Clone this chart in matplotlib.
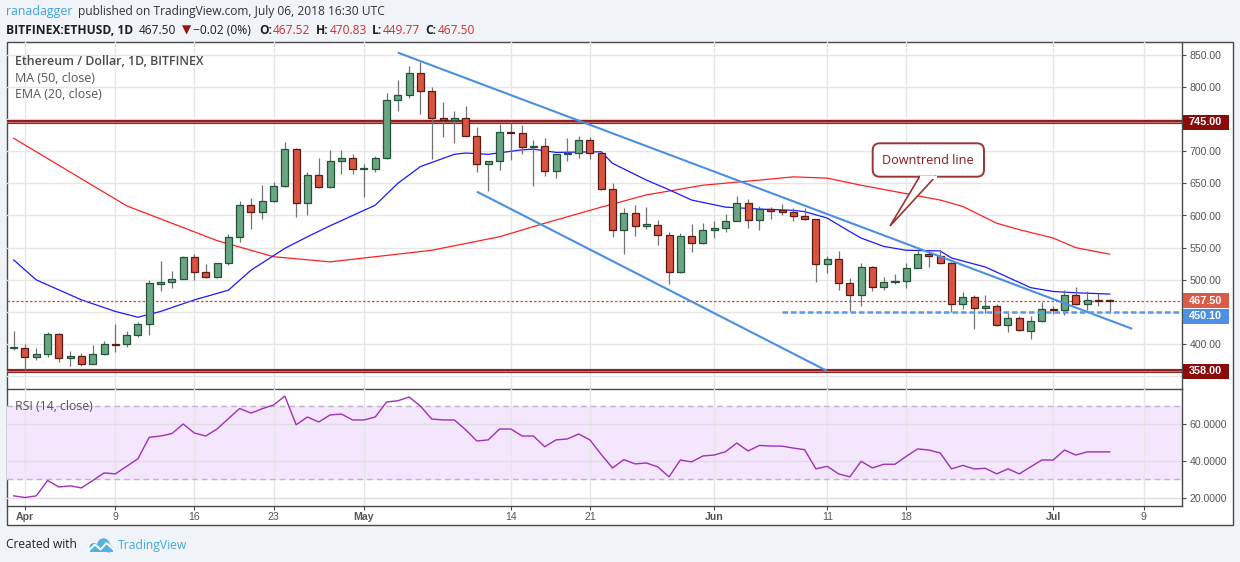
import matplotlib
matplotlib.use("Agg")
import matplotlib.pyplot as plt
from matplotlib.patches import Rectangle, FancyBboxPatch, Polygon, Circle
import numpy as np
import pandas as pd

W, H = 1240, 562

# ---------------- data ----------------
start_date = "2018-03-31"
end_date = "2018-07-06"
opens = [395, 394, 380, 385, 416, 379, 382, 370, 385, 401, 400, 415, 431, 494, 496, 502,
         535, 512, 504, 526, 567, 617, 605, 622, 646, 704, 619, 663, 644, 684, 690, 672,
         672, 689, 780, 787, 821, 794, 752, 749, 752, 724, 680, 684, 729, 728, 706, 708,
         669, 695, 697, 717, 697, 641, 578, 604, 584, 586, 569, 513, 568, 558, 577, 580,
         591, 620, 593, 610, 608, 606, 600, 594, 524, 532, 495, 476, 520, 489, 497, 498,
         518, 540, 537, 527, 462, 474, 456, 459, 430, 441, 421, 436, 455, 453, 477, 462,
         469, 467.52]
highs = [420, 400, 394, 419, 418, 389, 386, 399, 405, 432, 420, 435, 500, 529, 514, 537,
         540, 524, 527, 571, 622, 627, 647, 652, 714, 705, 667, 689, 702, 702, 696, 680,
         693, 791, 810, 832, 839, 799, 776, 762, 770, 737, 685, 742, 743, 740, 717, 721,
         696, 721, 723, 722, 700, 651, 611, 616, 613, 593, 575, 573, 587, 588, 591, 602,
         630, 626, 615, 613, 618, 611, 612, 595, 537, 545, 503, 527, 522, 504, 509, 527,
         549, 545, 546, 528, 481, 476, 476, 463, 448, 444, 444, 466, 459, 484, 489, 483,
         479, 470.83]
lows = [391, 360, 375, 380, 372, 366, 366, 369, 384, 388, 396, 412, 415, 482, 487, 501,
        500, 503, 503, 523, 559, 579, 594, 621, 645, 598, 600, 643, 643, 664, 664, 629,
        667, 688, 763, 783, 757, 687, 722, 712, 723, 668, 638, 670, 686, 695, 646, 661,
        659, 684, 690, 688, 640, 566, 540, 568, 579, 554, 494, 511, 544, 555, 565, 575,
        591, 581, 577, 594, 601, 592, 593, 497, 511, 484, 451, 460, 483, 484, 494, 488,
        518, 520, 525, 450, 455, 423, 448, 429, 419, 420, 408, 435, 447, 445, 461, 454,
        460, 449.77]
closes = [396, 380, 385, 416, 379, 382, 370, 385, 401, 399, 415, 431, 495, 496, 502, 535,
          512, 504, 526, 567, 617, 605, 622, 646, 704, 619, 663, 644, 685, 690, 672, 673,
          689, 780, 787, 821, 794, 752, 749, 752, 724, 680, 684, 729, 728, 706, 708, 669,
          695, 697, 717, 697, 641, 578, 604, 584, 587, 569, 513, 568, 558, 577, 580, 591,
          620, 593, 610, 607, 606, 600, 594, 524, 532, 495, 476, 520, 489, 497, 498, 518,
          540, 537, 527, 462, 474, 456, 459, 430, 441, 422, 436, 455, 453, 477, 462, 469,
          467.52, 467.50]

ma50_dates = ["2018-03-31", "2018-04-04", "2018-04-08", "2018-04-10", "2018-04-18", "2018-04-23",
              "2018-04-28", "2018-05-07", "2018-05-13", "2018-05-17", "2018-05-22", "2018-05-26",
              "2018-05-31", "2018-06-05", "2018-06-08", "2018-06-11", "2018-06-14", "2018-06-21",
              "2018-06-23", "2018-06-26", "2018-06-28", "2018-07-01", "2018-07-03", "2018-07-06"]
ma50_vals = [720, 678, 636, 615, 561, 536, 528, 546, 567, 588, 613, 632,
             647, 655, 660, 658, 647, 624, 614, 588, 578, 565, 550, 540]

ema20_dates = ["2018-03-31", "2018-04-02", "2018-04-06", "2018-04-09", "2018-04-11", "2018-04-13",
               "2018-04-16", "2018-04-19", "2018-04-21", "2018-04-24", "2018-04-26", "2018-04-28",
               "2018-05-02", "2018-05-04", "2018-05-06", "2018-05-09", "2018-05-10", "2018-05-12",
               "2018-05-15", "2018-05-16", "2018-05-18", "2018-05-22", "2018-05-23", "2018-05-26",
               "2018-05-28", "2018-05-30", "2018-06-02", "2018-06-05", "2018-06-08", "2018-06-09",
               "2018-06-11", "2018-06-13", "2018-06-14", "2018-06-16", "2018-06-18", "2018-06-21",
               "2018-06-22", "2018-06-25", "2018-06-29", "2018-07-01", "2018-07-03", "2018-07-06"]
ema20_vals = [531, 500, 469, 451, 442, 451, 469, 484, 515, 549, 567, 584,
              616, 650, 676, 695, 697, 695, 702, 703, 698, 699, 681, 655,
              640, 624, 613, 610, 608, 606, 596, 575, 565, 552, 546, 545,
              534, 520, 488, 482, 480, 478]

rsi_vals = [21.1, 20.2, 21.1, 29.4, 25.9, 26.5, 25.4, 29.4, 33.5, 33.0, 37.1, 41.2, 52.8,
            53.5, 54.8, 60.0, 55.1, 53.5, 57.3, 62.9, 68.4, 65.9, 68.3, 70.3, 75.1, 59.6,
            63.8, 61.1, 64.9, 65.4, 62.2, 62.2, 63.8, 71.9, 72.6, 74.6, 69.7, 62.7, 62.2,
            62.2, 56.9, 50.8, 51.4, 57.3, 57.3, 53.5, 53.5, 47.7, 51.4, 51.9, 54.6, 51.4,
            43.5, 36.2, 40.7, 38.4, 38.9, 36.8, 31.4, 40.5, 39.5, 42.7, 43.2, 45.0, 49.7,
            45.4, 48.4, 48.1, 48.0, 47.0, 46.1, 35.7, 37.1, 33.0, 31.4, 39.8, 36.2, 38.2,
            38.2, 42.5, 46.5, 45.9, 44.3, 35.7, 37.6, 35.7, 36.0, 33.0, 35.7, 33.0, 36.8,
            40.5, 40.5, 45.9, 43.2, 44.9, 44.9, 44.9]

level_top = 745.00
level_bottom = 358.00
support_level = 450.10
last_price = 467.50
support_start = "2018-06-07"

downtrend_dates = ["2018-05-04", "2018-07-08"]
downtrend_prices = [853, 424]
channel_dates = ["2018-05-11", "2018-06-11"]
channel_prices = [637, 358.5]

tick_dates = ["2018-04-01", "2018-04-09", "2018-04-16", "2018-04-23", "2018-05-01", "2018-05-14",
              "2018-05-21", "2018-06-01", "2018-06-11", "2018-06-18", "2018-07-01", "2018-07-09"]
tick_labels = ["Apr", "9", "16", "23", "May", "14", "21", "Jun", "11", "18", "Jul", "9"]
price_ticks = [400, 500, 550, 600, 650, 700, 800, 850]
price_grid = [350, 400, 450, 500, 550, 600, 650, 700, 750, 800, 850]
rsi_ticks = [20, 40, 60]

# ---------------- helpers ----------------
ref = pd.Timestamp("2018-04-01")
def dnum(d):
    return (pd.to_datetime(pd.Series(d)) - ref).dt.days.to_numpy().astype(float)

dates = pd.date_range(start_date, end_date, freq="D")
xs = dnum(dates)

fig = plt.figure(figsize=(W / 100, H / 100), dpi=100)
fig.patch.set_facecolor("#f0f3f7")
renderer = fig.canvas.get_renderer()

def fx(px):
    return px / W

def fy(py):
    return 1 - py / H

FRAME = "#4a4a4a"
GRID = "#e6e6e6"
TXT = "#555555"

bg = fig.add_axes([0, 0, 1, 1], zorder=-5)
bg.set_xlim(0, W); bg.set_ylim(H, 0); bg.axis("off")
bg.add_patch(Rectangle((7, 41.7), 1226, 483.3, facecolor="white", edgecolor=FRAME, lw=1.0))

L, R = 7, 1182
ax = fig.add_axes([fx(L), fy(389.3), fx(R) - fx(L), (389.3 - 41.7) / H])
rax = fig.add_axes([fx(L), fy(506), fx(R) - fx(L), (506 - 389.3) / H])
for a in (ax, rax):
    a.set_facecolor("none")
    a.set_xlim(-1.59, 102.4)
    for s in ("top", "left"):
        a.spines[s].set_visible(False)
    for s in ("right", "bottom"):
        a.spines[s].set_color(FRAME)
        a.spines[s].set_linewidth(1.0)
ax.set_ylim(330.1, 869.9)
rax.set_ylim(15.6, 78.8)

tx = dnum(tick_dates)
# grids
for t in tx:
    ax.axvline(t, color=GRID, lw=1, zorder=0)
    rax.axvline(t, color=GRID, lw=1, zorder=0.5)
for g in price_grid:
    ax.axhline(g, color=GRID, lw=1, zorder=0)

# main price ticks
ax.set_xticks(tx)
ax.tick_params(axis="x", length=0, labelbottom=False)
ax.yaxis.tick_right()
ax.set_yticks(price_ticks)
ax.set_yticklabels([f"{v:.2f}" for v in price_ticks])
ax.tick_params(axis="y", length=3, color=FRAME, labelcolor=TXT, labelsize=7.6, pad=2.5)
for lab in ax.get_yticklabels():
    lab.set_family("Liberation Sans")

# horizontal levels
for lv in (level_top, level_bottom):
    ax.axhline(lv, color="#8b1d1d", lw=3.0, zorder=1)
    ax.axhline(lv, color="#c86b6b", lw=0.9, zorder=1.1)

# moving averages
ax.plot(dnum(ma50_dates), ma50_vals, color="#ff2020", lw=0.9, zorder=2)
ax.plot(dnum(ema20_dates), ema20_vals, color="#1a1aff", lw=0.9, zorder=2)

# last price dotted line
ax.axhline(last_price, color="#e8402a", lw=0.9, ls=(0, (2, 1.6)), zorder=2)

# candles
o = np.array(opens, float); c = np.array(closes, float)
hi = np.array(highs, float); lo = np.array(lows, float)
up = c >= o
ax.vlines(xs, lo, hi, color="#737375", lw=0.9, zorder=3)
bottoms = np.minimum(o, c)
heights = np.maximum(np.abs(c - o), 0.9)
ax.bar(xs[up], heights[up], bottom=bottoms[up], width=0.62, color="#6ba583",
       edgecolor="#225437", lw=0.9, zorder=4)
ax.bar(xs[~up], heights[~up], bottom=bottoms[~up], width=0.62, color="#d75442",
       edgecolor="#5b1a13", lw=0.9, zorder=4)

# trend lines
TL = "#4a90e2"
ax.plot(dnum(downtrend_dates), downtrend_prices, color=TL, lw=1.5, zorder=5,
        solid_capstyle="butt")
ax.plot(dnum(channel_dates), channel_prices, color=TL, lw=1.5, zorder=5,
        solid_capstyle="butt")
ax.plot([dnum([support_start])[0], 102.4], [support_level, support_level], color="#5a9be8",
        lw=1.8, ls=(0, (2.2, 1.2)), zorder=5)

# RSI panel
rax.axhspan(30, 70, color="#f3e6fd", zorder=0)
for g in rsi_ticks:
    rax.axhline(g, color="#e0dce4", lw=1, zorder=0.6)
for g in (30, 70):
    rax.axhline(g, color="#c0b4c8", lw=1, ls=(0, (4, 3)), zorder=0.7)
rax.plot(xs, rsi_vals, color="#a030b8", lw=1.0, zorder=3)
rax.yaxis.tick_right()
rax.set_yticks(rsi_ticks)
rax.set_yticklabels([f"{v:.4f}" for v in rsi_ticks])
rax.tick_params(axis="y", length=3, color=FRAME, labelcolor=TXT, labelsize=7.6, pad=2.5)
rax.set_xticks(tx)
rax.set_xticklabels(tick_labels)
rax.tick_params(axis="x", length=3, color=FRAME, labelcolor=TXT, labelsize=7.6, pad=1.5)
for lab in rax.get_yticklabels():
    lab.set_family("Liberation Sans")
for lab in rax.get_xticklabels():
    lab.set_family("Liberation Sans")
    if lab.get_text() in ("Apr", "May", "Jun", "Jul"):
        lab.set_fontweight("bold")

# overlay in pixel coordinates
top = fig.add_axes([0, 0, 1, 1], zorder=20)
top.set_xlim(0, W); top.set_ylim(H, 0); top.axis("off"); top.set_facecolor("none")

def fit_text(x, y, s, target_w, size=9, **kw):
    t = top.text(x, y, s, fontsize=size, **kw)
    w = t.get_window_extent(renderer).width
    if w > 0:
        t.set_fontsize(size * target_w / w)
    return t

HF = ["Open Sans", "DejaVu Sans"]

# header
fit_text(6, 12, "ranadagger", 67, color="#3ca4dc", family=HF, va="center")
fit_text(78, 12, "published on TradingView.com, July 06, 2018 16:30 UTC", 311,
         color="#333333", family=HF, va="center")
t0 = fit_text(6, 30, "BITFINEX:ETHUSD, 1D", 127, color="#1e1e1e", family=HF,
              fontweight="bold", va="center")
hs = t0.get_fontsize()
segs = [(139, "467.50", "#1e1e1e", "normal"), (182, "\u25bc", "#9b1010", "normal"),
        (193, "\u22120.02 (0%)", "#1e1e1e", "normal"),
        (259, "O:", "#1e1e1e", "bold"), (273, "467.52", "#c8332b", "normal"),
        (316, "H:", "#1e1e1e", "bold"), (330, "470.83", "#c8332b", "normal"),
        (372, "L:", "#1e1e1e", "bold"), (383, "449.77", "#c8332b", "normal"),
        (425, "C:", "#1e1e1e", "bold"), (438, "467.50", "#c8332b", "normal")]
for sx, s, col, wt in segs:
    top.text(sx, 30, s, fontsize=hs, color=col, fontweight=wt, family=HF, va="center")

# in-chart legend
fit_text(15, 61.5, "Ethereum / Dollar, 1D, BITFINEX", 188, color="#4a4a4a", family=HF,
         fontweight="semibold", va="center")
fit_text(15, 78, "MA (50, close)", 80, color=TXT, family=HF, va="center")
fit_text(15, 94.5, "EMA (20, close)", 87, color=TXT, family=HF, va="center")
fit_text(15, 406.7, "RSI (14, close)", 78, color=TXT, family=HF, va="center")

# price labels on right axis
def py(price):
    return H - ax.transData.transform((0, price))[1]

box_h = 15
y467 = py(last_price)
y450 = max(py(support_level), y467 + box_h + 0.5)
boxes = [(level_top, py(level_top), "#8b0a0a"), (last_price, y467, "#dc5a48"),
         (support_level, y450, "#4d8fe6"), (level_bottom, py(level_bottom), "#8b0a0a")]
for val, yc, col in boxes:
    top.add_patch(Rectangle((1182.5, yc - box_h / 2), 46, box_h, facecolor=col,
                            edgecolor="none", zorder=5))
    top.text(1205.5, yc, f"{val:.2f}", color="white", fontsize=7.8, fontweight="bold",
             family="Liberation Sans", ha="center", va="center", zorder=6)

# callout "Downtrend line"
CO = "#9b3434"
top.add_patch(FancyBboxPatch((872.7, 143.3), 111.3, 33.4,
                             boxstyle="round,pad=0,rounding_size=7",
                             facecolor="white", edgecolor=CO, lw=1.4, zorder=5))
top.add_patch(Polygon([(920, 176.0), (890, 226), (936, 176.0)], closed=False,
                      facecolor="white", edgecolor=CO, lw=1.2, zorder=5))
top.plot([921.2, 934.8], [176.7, 176.7], color="white", lw=2.2, zorder=6)
fit_text(928.3, 160, "Downtrend line", 92, color="#8b1a1a", family=HF, ha="center",
         va="center", zorder=7)

# footer
fit_text(6, 545, "Created with", 72, color="#222222", family=HF, va="center")
LOGO = "#54b1e4"
for (cx, cy, r) in [(94, 547.5, 4.5), (103.5, 544.5, 6.2), (108.5, 548.5, 4.0)]:
    top.add_patch(Circle((cx, cy), r, facecolor=LOGO, edgecolor="none"))
top.add_patch(Rectangle((89.5, 547), 23, 5, facecolor=LOGO, edgecolor="none"))
top.plot([88, 95, 100.5, 106.5, 113], [551, 544.5, 549.5, 543, 549], color="white", lw=1.4)
fit_text(118, 545, "TradingView", 70, color="#45a8df", family=HF, va="center")

fig.savefig("out.png", dpi=100, facecolor=fig.get_facecolor())
